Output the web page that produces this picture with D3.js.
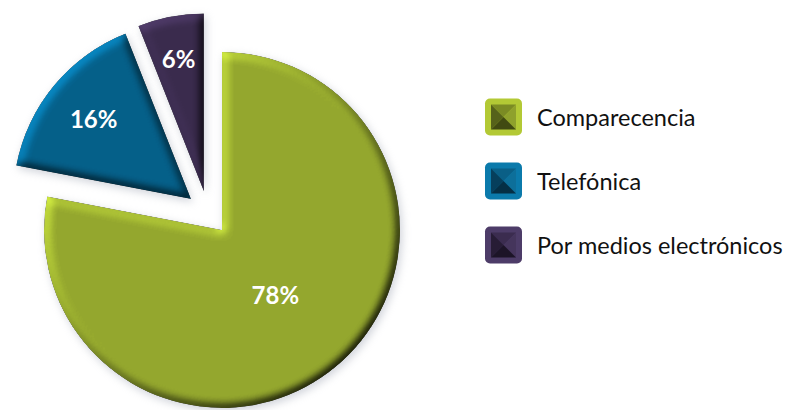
<!DOCTYPE html>
<html lang="es">
<head>
    <meta charset="UTF-8">
    <title>Pie Chart</title>
    <script src="https://d3js.org/d3.v7.min.js"></script>
    <style>
        body{ margin: 0; background: white; }
        svg{ display: block; }
        .pctLabel{ font-family: Lato, "Open Sans", sans-serif; font-weight: bold; font-size: 24px; fill: white; }
        .legendText{ font-family: Lato, "Open Sans", sans-serif; font-size: 23.5px; fill: #111; }
    </style>
</head>
<body>
<svg width="800" height="410" viewBox="0 0 800 410"></svg>
<script>
    // data
    let categories = ["Comparecencia", "Telefónica", "Por medios electrónicos"];
    let values = [78, 16, 6];
    let labels = ["78%", "16%", "6%"];

    // styles
    let sliceColors = ["#95a82e", "#05608a", "#3a2b4d"];
    let rimColors = ["#b3c935", "#0b7aab", "#4d3c68"];
    let pyramidShades = [
        ["#7b8b24", "#56621a", "#8fa12c", "#414a12"],
        ["#0a5f86", "#063f5c", "#0d6f9a", "#052f45"],
        ["#3b2c4f", "#271c35", "#45355c", "#1c1427"]
    ];
    let labelRadius = [0.47, 0.71, 0.76];

    let svg = d3.select('svg');
    let center = {x: 208, y: 213};
    let radius = 178;
    let explode = 22;

    // Step 1 filter for bevel + soft shadow
    let defs = svg.append('defs');
    let f = defs.append('filter').attr('id', 'bevel')
        .attr('x', '-20%').attr('y', '-20%').attr('width', '140%').attr('height', '140%')
        .attr('color-interpolation-filters', 'sRGB');
    f.append('feGaussianBlur').attr('in', 'SourceAlpha').attr('stdDeviation', 5).attr('result', 'blur');
    f.append('feDiffuseLighting').attr('in', 'blur').attr('surfaceScale', 4)
        .attr('diffuseConstant', 0.707).attr('lighting-color', '#ffffff').attr('result', 'light')
        .append('feDistantLight').attr('azimuth', 225).attr('elevation', 45);
    f.append('feComposite').attr('in', 'SourceGraphic').attr('in2', 'light')
        .attr('operator', 'arithmetic').attr('k1', 2).attr('k2', 0).attr('k3', 0).attr('k4', 0)
        .attr('result', 'shaded');
    f.append('feComposite').attr('in', 'shaded').attr('in2', 'SourceAlpha').attr('operator', 'in').attr('result', 'bev');
    f.append('feGaussianBlur').attr('in', 'SourceAlpha').attr('stdDeviation', 4).attr('result', 'sblur');
    f.append('feOffset').attr('in', 'sblur').attr('dx', 2).attr('dy', 3).attr('result', 'soff');
    f.append('feFlood').attr('flood-color', '#8a91a3').attr('flood-opacity', 0.4).attr('result', 'sfl');
    f.append('feComposite').attr('in', 'sfl').attr('in2', 'soff').attr('operator', 'in').attr('result', 'shadow');
    let merge = f.append('feMerge');
    merge.append('feMergeNode').attr('in', 'shadow');
    merge.append('feMergeNode').attr('in', 'bev');

    // Step 2 pie layout
    let pie = d3.pie().sort(null).value(function(d){ return d; });
    let arcs = pie(values);
    let arc = d3.arc().innerRadius(0).outerRadius(radius);

    function offset(d){
        let mid = (d.startAngle + d.endAngle) / 2;
        return [Math.sin(mid) * explode, -Math.cos(mid) * explode];
    }

    let pieG = svg.append('g').attr('transform', 'translate(' + center.x + ',' + center.y + ')');
    let slices = pieG.selectAll('g.slice')
        .data(arcs)
        .enter().append('g')
        .attr('class', 'slice')
        .attr('transform', function(d){
            let o = offset(d);
            return 'translate(' + o[0] + ',' + o[1] + ')';
        });
    slices.append('path')
        .attr('d', arc)
        .attr('fill', function(d, i){ return sliceColors[i]; })
        .attr('filter', 'url(#bevel)');

    // Step 3 labels
    slices.append('text')
        .attr('class', 'pctLabel')
        .attr('text-anchor', 'middle')
        .attr('dominant-baseline', 'central')
        .attr('transform', function(d, i){
            let r = radius * labelRadius[i];
            let c = d3.arc().innerRadius(r).outerRadius(r).centroid(d);
            return 'translate(' + c[0] + ',' + c[1] + ')';
        })
        .text(function(d, i){ return labels[i]; });

    // Step 4 legend
    let legendY = d3.scalePoint().domain(categories).range([117, 245]);
    let box = 37, inner = 25;
    let legend = svg.append('g').attr('transform', 'translate(485,0)');
    let items = legend.selectAll('g.item')
        .data(categories)
        .enter().append('g')
        .attr('class', 'item')
        .attr('transform', function(d){ return 'translate(0,' + legendY(d) + ')'; });
    items.append('rect')
        .attr('x', 0).attr('y', -box / 2)
        .attr('width', box).attr('height', box)
        .attr('rx', 5)
        .attr('fill', function(d, i){ return rimColors[i]; });
    // pyramid look inside the legend key
    let h = inner / 2, cx = box / 2;
    let tris = [
        [[-h, -h], [h, -h], [0, 0]],
        [[-h, -h], [-h, h], [0, 0]],
        [[h, -h], [h, h], [0, 0]],
        [[-h, h], [h, h], [0, 0]]
    ];
    items.each(function(d, i){
        let g = d3.select(this).append('g').attr('transform', 'translate(' + cx + ',0)');
        g.selectAll('path')
            .data(tris)
            .enter().append('path')
            .attr('d', function(t){ return d3.line()(t) + 'Z'; })
            .attr('fill', function(t, k){ return pyramidShades[i][k]; });
    });
    items.append('text')
        .attr('class', 'legendText')
        .attr('x', 52)
        .attr('y', 0)
        .attr('dominant-baseline', 'central')
        .text(function(d){ return d; });
</script>
</body>
</html>
